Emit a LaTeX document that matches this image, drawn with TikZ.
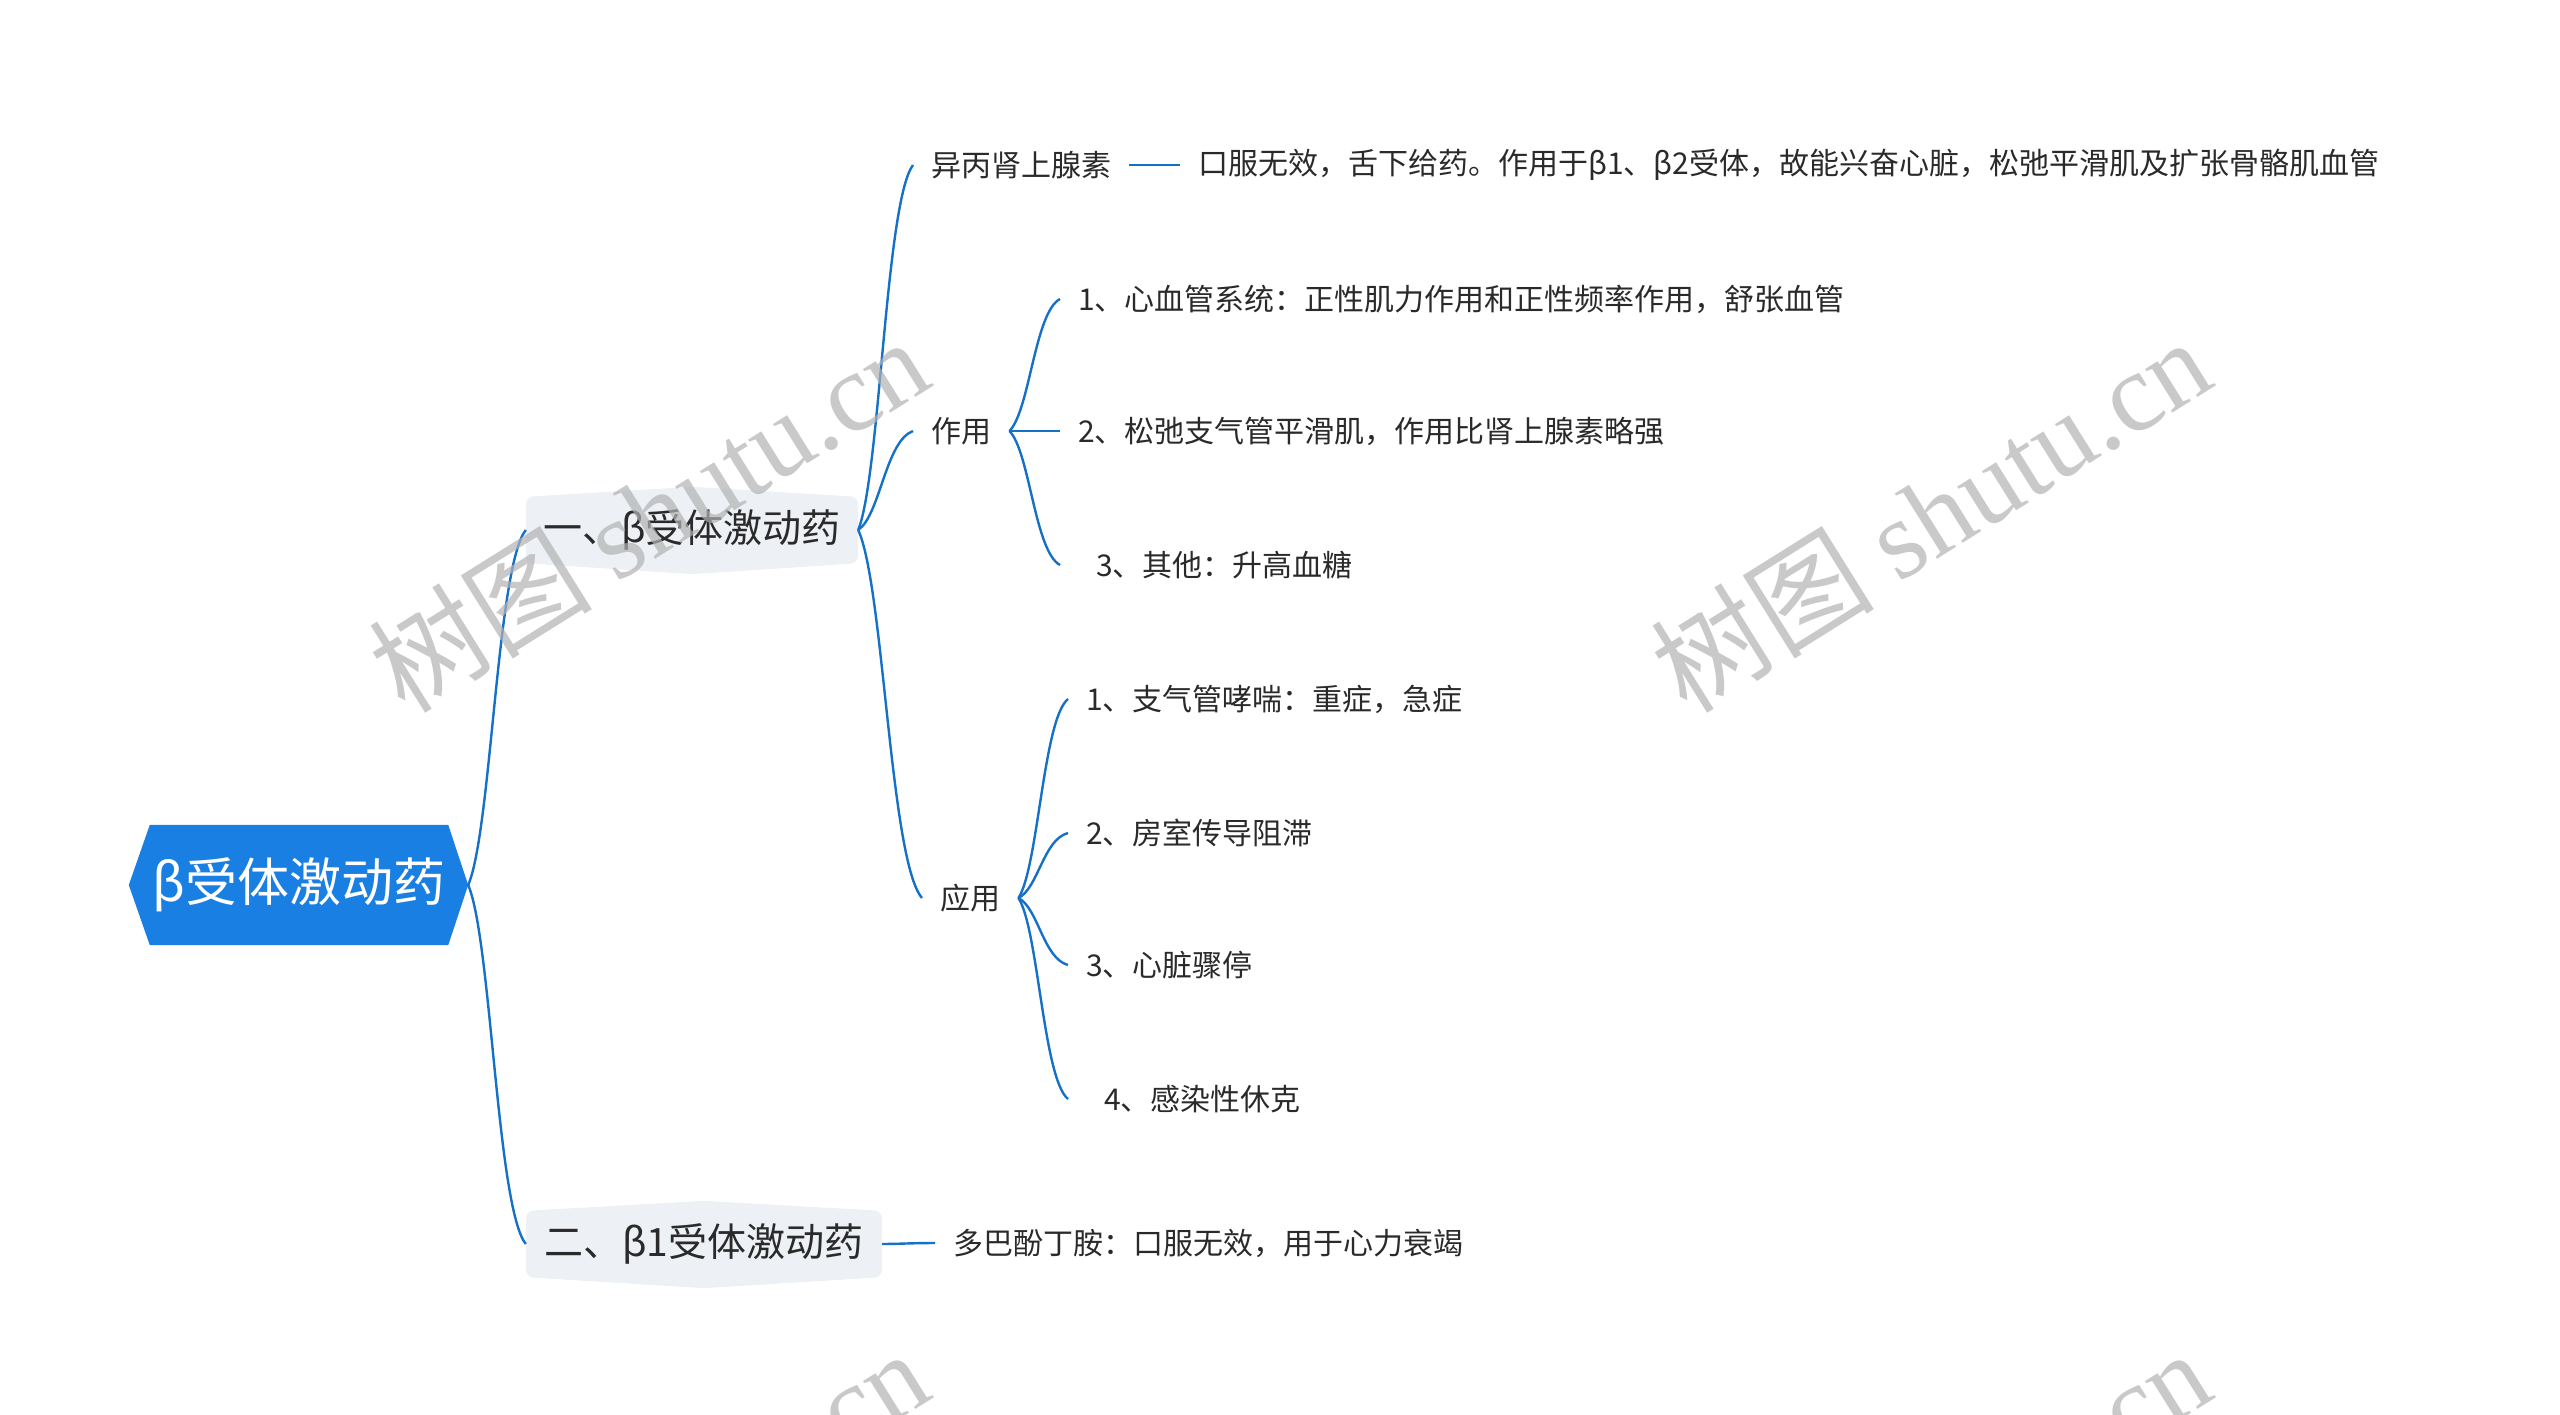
\documentclass[tikz,border=0pt]{standalone}
\usepackage{fontspec}
\setmainfont{Noto Sans CJK SC}
\newfontfamily\wmlatin{Liberation Serif}
\usetikzlibrary{calc,backgrounds}
\definecolor{rootblue}{HTML}{1A7FE3}
\definecolor{linkblue}{HTML}{1570C8}
\definecolor{boxgrey}{HTML}{EDF0F4}
\definecolor{txt}{HTML}{2A2A2A}
\tikzset{
  link/.style={draw=linkblue, line width=2.4bp},
  leaf/.style={anchor=west, inner xsep=18bp, inner ysep=4bp, text=txt, font=\fontsize{30bp}{36bp}\selectfont},
  lvone/.style={inner sep=0pt, minimum height=66bp, text=txt, font=\fontsize{39bp}{46bp}\selectfont},
  rootnode/.style={minimum width=298bp, minimum height=120bp, inner sep=0pt, text=white, font=\fontsize{52bp}{60bp}\selectfont},
  wm/.style={rotate=32, text=black!30, opacity=0.7, font=\fontsize{112bp}{120bp}\selectfont}
}
\newcommand\linkto[2]{\draw[link] let \p1=(#1), \p2=(#2) in (\p1) .. controls ({\x1+0.4*(\x2-\x1)},{\y1+0.15*(\y2-\y1)}) and ({\x1+0.5*(\x2-\x1)},{\y1+0.9*(\y2-\y1)}) .. (\p2);}
\begin{document}
\begin{tikzpicture}[x=1bp,y=-1bp]
\useasboundingbox (0,0) rectangle (2560,1415);
\clip (0,0) rectangle (2560,1415);

% root
\node[rootnode] (root) at (299,885) {β受体激动药};
\coordinate (rootR) at ([xshift=20bp]root.east);
\begin{pgfonlayer}{background}
\fill[rootblue] (root.north west) -- (root.north east) -- (rootR) -- (root.south east) -- (root.south west) -- ([xshift=-21bp]root.west) -- cycle;
\end{pgfonlayer}

% level one
\node[lvone, minimum width=332bp] (n1) at (692,530) {一、β受体激动药};
\node[lvone, minimum width=356bp] (n2) at (704,1244) {二、β1受体激动药};
\begin{pgfonlayer}{background}
\fill[boxgrey, rounded corners=8bp] (n1.north west) -- ([yshift=10bp]n1.north) -- (n1.north east) -- (n1.south east) -- ([yshift=-11bp]n1.south) -- (n1.south west) -- cycle;
\fill[boxgrey, rounded corners=8bp] (n2.north west) -- ([yshift=10bp]n2.north) -- (n2.north east) -- (n2.south east) -- ([yshift=-11bp]n2.south) -- (n2.south west) -- cycle;
\end{pgfonlayer}

% level two and leaves
\node[leaf] (yb) at (913,165) {异丙肾上腺素};
\node[leaf] (ybd) at (1180,165) {口服无效，舌下给药。作用于β1、β2受体，故能兴奋心脏，松弛平滑肌及扩张骨骼肌血管};
\node[leaf] (zy) at (913,431) {作用};
\node[leaf] (zy1) at (1060,299) {1、心血管系统：正性肌力作用和正性频率作用，舒张血管};
\node[leaf] (zy2) at (1060,431) {2、松弛支气管平滑肌，作用比肾上腺素略强};
\node[leaf] (zy3) at (1060,565) {\hspace*{18bp}3、其他：升高血糖};
\node[leaf] (yy) at (922,898) {应用};
\node[leaf] (yy1) at (1068,699) {1、支气管哮喘：重症，急症};
\node[leaf] (yy2) at (1068,833) {2、房室传导阻滞};
\node[leaf] (yy3) at (1068,965) {3、心脏骤停};
\node[leaf] (yy4) at (1068,1099) {\hspace*{18bp}4、感染性休克};
\node[leaf] (db) at (935,1243) {多巴酚丁胺：口服无效，用于心力衰竭};

% connectors
\linkto{rootR}{n1.west}
\linkto{rootR}{n2.west}
\linkto{n1.east}{yb.west}
\linkto{n1.east}{zy.west}
\linkto{n1.east}{yy.west}
\linkto{yb.east}{ybd.west}
\linkto{zy.east}{zy1.west}
\linkto{zy.east}{zy2.west}
\linkto{zy.east}{zy3.west}
\linkto{yy.east}{yy1.west}
\linkto{yy.east}{yy2.west}
\linkto{yy.east}{yy3.west}
\linkto{yy.east}{yy4.west}
\linkto{n2.east}{db.west}

% watermarks
\node[wm] (wm1) at (648,514) {树图 {\wmlatin shutu.cn}};
\node[wm] (wm2) at (1930,514) {树图 {\wmlatin shutu.cn}};
\node[wm] (wm3) at (648,1526) {树图 {\wmlatin shutu.cn}};
\node[wm] (wm4) at (1930,1526) {树图 {\wmlatin shutu.cn}};
\end{tikzpicture}
\end{document}
